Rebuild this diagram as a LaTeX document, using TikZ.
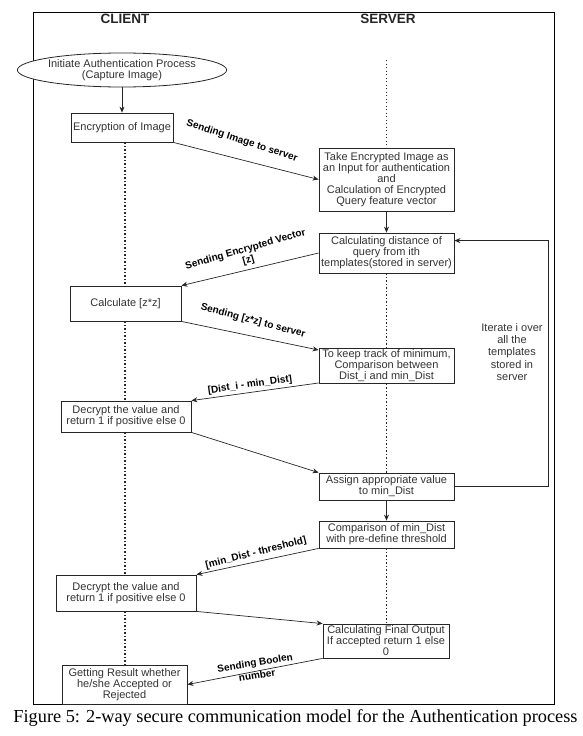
\documentclass[tikz,border=0pt]{standalone}
\usepackage{fontspec}
\setmainfont{Liberation Sans}
\newfontfamily\capfont{Liberation Serif}
\usetikzlibrary{shapes.geometric, arrows.meta, positioning, calc}
\usepackage{xcolor}
\definecolor{boxtext}{HTML}{333333}

\begin{document}
\begin{tikzpicture}[
    x=1pt, y=-1pt,
    every node/.style={font=\fontsize{11}{11}\selectfont, text=boxtext, inner sep=1.5pt},
    proc/.style={draw=black!85, fill=white, rectangle, align=center, line width=0.8pt},
    startnode/.style={draw=black!85, fill=white, ellipse, align=center, inner sep=0pt, line width=0.8pt},
    lane/.style={font=\fontsize{13.5}{15}\selectfont\bfseries, text=black!85},
    msg/.style={draw=black!85, -{Stealth[length=6pt, width=5pt]}, line width=0.7pt},
    msglabel/.style={font=\fontsize{10}{11}\selectfont\bfseries, text=black, align=center, inner sep=0pt},
    lifeline/.style={draw=black!85, line width=1.2pt, dash pattern=on 1.2pt off 2.3pt}
]
\useasboundingbox (0,0) rectangle (583,736);
\draw[line width=0.9pt] (33,12) rectangle (554,704);

% lanes
\node[lane] (client) at (125,19) {CLIENT};
\node[lane] (server) at (388,19) {SERVER};

% client side
\node[startnode, minimum width=169pt, minimum height=34pt] (start) at (122,70) {Initiate Authentication Process\\(Capture Image)};
\node[proc, minimum width=102pt, minimum height=29pt] (enc) at (122,127.5) {Encryption of Image};
\node[proc, minimum width=111pt, minimum height=35pt] (calc) at (125.5,303.5) {Calculate [z*z]};
\node[proc, minimum width=130pt, minimum height=31pt] (dec1) at (126,416.5) {Decrypt the value and\\return 1 if positive else 0};
\node[proc, minimum width=140pt, minimum height=36pt] (dec2) at (126,593) {Decrypt the value and\\return 1 if positive else 0};
\node[proc, minimum width=125pt, minimum height=39pt] (result) at (124.5,684.5) {Getting Result whether\\he/she Accepted or\\Rejected};

% server side
\node[proc, minimum width=135pt, minimum height=63pt] (take) at (386.5,179.5) {Take Encrypted Image as\\an Input for authentication\\and\\Calculation of Encrypted\\Query feature vector};
\node[proc, minimum width=135pt, minimum height=40pt] (dist) at (386.5,253) {Calculating distance of\\query from ith\\templates(stored in server)};
\node[proc, minimum width=135pt, minimum height=34pt] (track) at (386.5,366) {To keep track of minimum,\\Comparison between\\Dist\_i and min\_Dist};
\node[proc, minimum width=135pt, minimum height=27pt] (assign) at (386.5,486.5) {Assign appropriate value\\to min\_Dist};
\node[proc, minimum width=135pt, minimum height=27pt] (comp) at (386.5,534.5) {Comparison of min\_Dist\\with pre-define threshold};
\node[proc, minimum width=126pt, minimum height=34pt] (final) at (386,641) {Calculating Final Output\\If accepted return 1 else\\0};

\node[align=center, font=\fontsize{11}{12.2}\selectfont] (iter) at (512,352) {Iterate i over\\all the\\templates\\stored in\\server};

% lifelines
\coordinate (clx) at (125,0);
\coordinate (srvtop) at (386.5,60);
\draw[lifeline] (enc.south -| clx) -- (calc.north -| clx);
\draw[lifeline] (calc.south -| clx) -- (dec1.north -| clx);
\draw[lifeline] (dec1.south -| clx) -- (dec2.north -| clx);
\draw[lifeline] (dec2.south -| clx) -- (result.north -| clx);
\draw[lifeline] (srvtop) -- (take.north);
\draw[lifeline] (dist.south) -- (track.north);
\draw[lifeline] (track.south) -- (assign.north);
\draw[lifeline] (comp.south) -- (comp.south |- final.north);

% local steps
\draw[msg] (start) -- (enc);
\draw[msg] (take) -- (dist);
\draw[msg] (assign) -- (comp);

% messages
\draw[msg] (enc.south east) -- (take.west);
\draw[msg] (dist.west) -- (calc.north east);
\draw[msg] (calc.south east) -- ($(track.north west)+(0,2)$);
\draw[msg] ($(track.south west)+(0,-1)$) -- (dec1.north east);
\draw[msg] (dec1.south east) -- (assign.north west);
\draw[msg] (comp.south west) -- (dec2.north east);
\draw[msg] (dec2.south east) -- (final.north west);
\draw[msg] (final.south west) -- (result.east);

% message labels
\node[msglabel, rotate=-18] (lblimg) at (242,141) {Sending Image to server};
\node[msglabel, rotate=16] (lblvec) at (247,255) {Sending Encrypted Vector\\{[z]}};
\node[msglabel, rotate=-15] (lblsq) at (253,321) {Sending [z*z] to server};
\node[msglabel, rotate=8] (lbldist) at (250,385) {[Dist\_i - min\_Dist]};
\node[msglabel, rotate=14] (lblthr) at (256,553) {[min\_Dist - threshold]};
\node[msglabel, rotate=9, font=\fontsize{10}{13}\selectfont\bfseries] (lblbool) at (256,669) {Sending Boolen\\number};

% loop over templates
\coordinate (loop) at (548,0);
\draw[msg] (assign.east) -- (assign.east -| loop) |- ($(dist.north east)+(0,8)$);

\node[font=\capfont\fontsize{18.3}{20}\selectfont, text=black] (caption) at (295.5,718) {Figure 5: 2-way secure communication model for the Authentication process};
\end{tikzpicture}
\end{document}
